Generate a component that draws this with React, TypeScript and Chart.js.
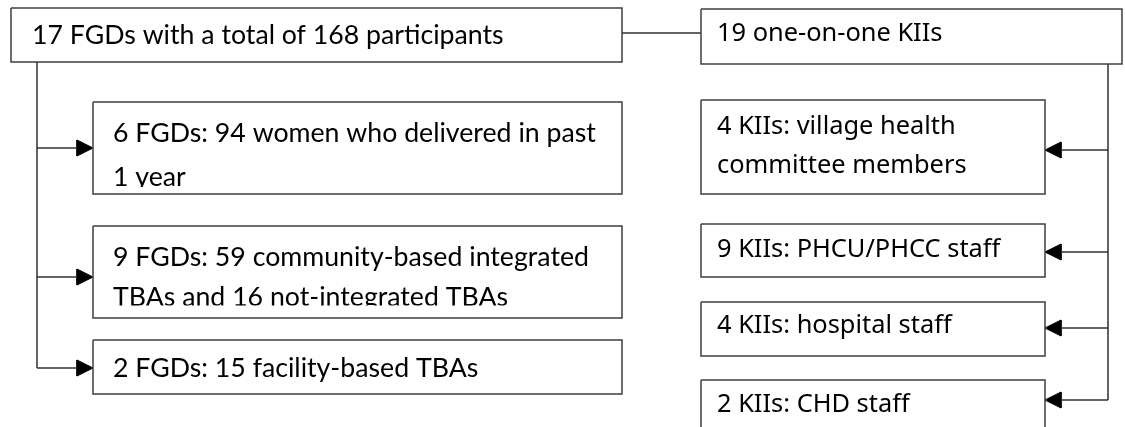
import React, { useEffect, useRef } from "react";
import { Chart, registerables } from "chart.js";

Chart.register(...registerables);

const W = 1125;
const H = 427;

// Node labels
const leftLabels: string[][] = [
  ["17 FGDs with a total of 168 participants"],
  ["6 FGDs: 94 women who delivered in past", "1 year"],
  ["9 FGDs: 59 community-based integrated", "TBAs and 16 not-integrated TBAs"],
  ["2 FGDs: 15 facility-based TBAs"],
];
const rightLabels: string[][] = [
  ["19 one-on-one KIIs"],
  ["4 KIIs: village health", "committee members"],
  ["9 KIIs: PHCU/PHCC staff"],
  ["4 KIIs: hospital staff"],
  ["2 KIIs: CHD staff"],
];

// Box extents [left, top, right, bottom] in diagram units
const leftBoxes: number[][] = [
  [11, 8, 622, 62],
  [93, 102, 622, 194],
  [93, 226, 622, 318],
  [93, 340, 622, 394],
];
const rightBoxes: number[][] = [
  [701, 9, 1122, 64],
  [701, 100, 1045, 194],
  [701, 224, 1045, 277],
  [701, 302, 1045, 356],
  [701, 380, 1045, 440],
];
// Text line centre rows for each box, and the row where each box's text area ends
const leftTextRows: number[][] = [[35], [133, 177], [257, 297], [368]];
const rightTextRows: number[][] = [[34], [127, 166], [250], [326], [405]];
const leftTextBottom: number[] = [62, 187, 305.5, 394];
const rightTextBottom: number[] = [64, 194, 277, 356, 440];
const leftTextX: number[] = [32, 113, 113, 113];
const rightTextX: number[] = [717, 717, 717, 717, 717];

// Connectors
const linkLine: number[][] = [[622, 33], [701, 33]];
const leftTrunk: number[][] = [[37, 62], [37, 368]];
const rightTrunk: number[][] = [[1108, 64], [1108, 400]];
const leftArrowRows: number[] = [148, 277, 368];
const rightArrowRows: number[] = [150, 252, 328, 400];
const leftTrunkX = 37;
const leftArrowTipX = 93;
const rightTrunkX = 1108;
const rightArrowTipX = 1045;

const BOX_COLOR = "#3f3f3f";
const LINE_COLOR = "#303030";

const pts = (arr: number[][]) => arr.map(([x, y]) => ({ x, y }));
const boxPath = (b: number[]) => [
  { x: b[0], y: b[1] },
  { x: b[2], y: b[1] },
  { x: b[2], y: b[3] },
  { x: b[0], y: b[3] },
  { x: b[0], y: b[1] },
];

export default function App() {
  const ref = useRef<HTMLCanvasElement | null>(null);

  useEffect(() => {
    document.body.style.margin = "0";
    const canvas = ref.current;
    if (!canvas) return;

    const datasets: any[] = [];
    const lineDs = (data: any[], color: string, width: number) => ({
      data,
      showLine: true,
      borderColor: color,
      borderWidth: width,
      pointRadius: 0,
      fill: false,
      tension: 0,
    });
    [...leftBoxes, ...rightBoxes].forEach((b) =>
      datasets.push(lineDs(boxPath(b), BOX_COLOR, 1.5))
    );
    datasets.push(lineDs(pts(linkLine), LINE_COLOR, 1.5));
    datasets.push(lineDs(pts(leftTrunk), LINE_COLOR, 1.5));
    datasets.push(lineDs(pts(rightTrunk), LINE_COLOR, 1.5));
    const AL = 16;
    const AW = 8;
    leftArrowRows.forEach((y) => {
      datasets.push(
        lineDs([{ x: leftTrunkX, y }, { x: leftArrowTipX - AL, y }], LINE_COLOR, 1.5)
      );
      datasets.push({
        ...lineDs(
          [
            { x: leftArrowTipX, y },
            { x: leftArrowTipX - AL, y: y - AW },
            { x: leftArrowTipX - AL, y: y + AW },
            { x: leftArrowTipX, y },
          ],
          "#000",
          1
        ),
        fill: "shape",
        backgroundColor: "#000",
      });
    });
    rightArrowRows.forEach((y) => {
      datasets.push(
        lineDs([{ x: rightTrunkX, y }, { x: rightArrowTipX + AL, y }], LINE_COLOR, 1.5)
      );
      datasets.push({
        ...lineDs(
          [
            { x: rightArrowTipX, y },
            { x: rightArrowTipX + AL, y: y - AW },
            { x: rightArrowTipX + AL, y: y + AW },
            { x: rightArrowTipX, y },
          ],
          "#000",
          1
        ),
        fill: "shape",
        backgroundColor: "#000",
      });
    });

    const textPlugin = {
      id: "nodeText",
      afterDatasetsDraw(chart: any) {
        const { ctx, scales } = chart;
        const xs = scales.x;
        const ys = scales.y;
        const drawGroup = (
          boxes: number[][],
          labels: string[][],
          rows: number[][],
          bottoms: number[],
          tx: number[],
          font: string
        ) => {
          boxes.forEach((b, i) => {
            const x0 = xs.getPixelForValue(b[0]);
            const x1 = xs.getPixelForValue(b[2]);
            const y0 = ys.getPixelForValue(b[1]);
            const y1 = Math.min(ys.getPixelForValue(b[3]) - 1, ys.getPixelForValue(bottoms[i]));
            ctx.save();
            ctx.beginPath();
            ctx.rect(x0 + 1, y0 + 1, x1 - x0 - 2, y1 - y0 - 1);
            ctx.clip();
            ctx.fillStyle = "#000";
            ctx.font = font;
            ctx.textBaseline = "middle";
            ctx.textAlign = "left";
            labels[i].forEach((line, j) => {
              ctx.fillText(line, xs.getPixelForValue(tx[i]), ys.getPixelForValue(rows[i][j]));
            });
            ctx.restore();
          });
        };
        drawGroup(leftBoxes, leftLabels, leftTextRows, leftTextBottom, leftTextX, "26.7px Lato, 'Open Sans', sans-serif");
        drawGroup(rightBoxes, rightLabels, rightTextRows, rightTextBottom, rightTextX, "25.4px 'Noto Sans', sans-serif");
      },
    };

    const chart = new Chart(canvas, {
      type: "scatter",
      data: { datasets },
      options: {
        animation: false,
        responsive: false,
        maintainAspectRatio: false,
        layout: { padding: 0 },
        plugins: { legend: { display: false }, tooltip: { enabled: false } },
        scales: {
          x: { type: "linear", min: 0, max: W, display: false },
          y: { type: "linear", min: 0, max: H, reverse: true, display: false },
        },
      },
      plugins: [textPlugin],
    });
    return () => chart.destroy();
  }, []);

  return (
    <div style={{ width: W, height: H, background: "#fff" }}>
      <canvas ref={ref} width={W} height={H} style={{ display: "block" }} />
    </div>
  );
}
